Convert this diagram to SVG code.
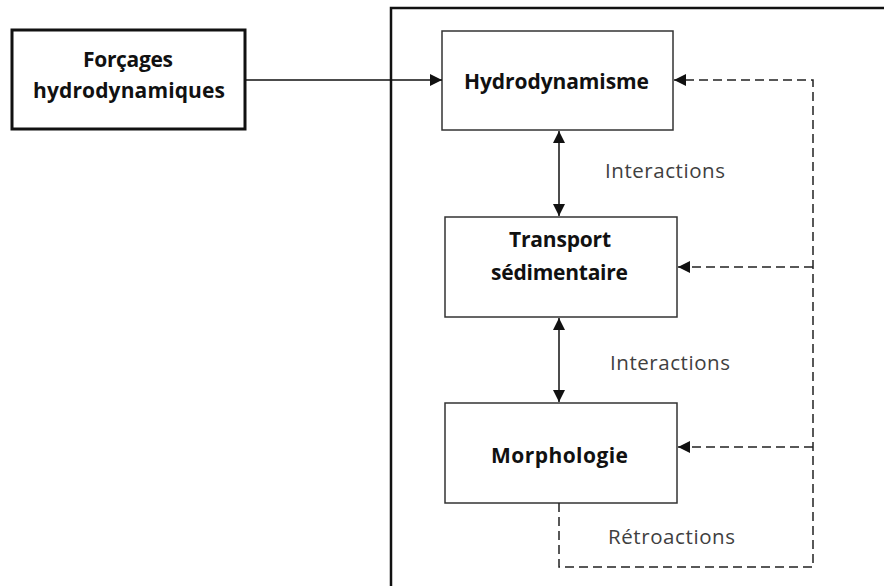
<svg xmlns="http://www.w3.org/2000/svg" width="884" height="586" viewBox="0 0 884 586">
<defs>
<style>
.box{fill:#fff;stroke:#333;stroke-width:1.5}
.bt{font-family:"Open Sans","Liberation Sans",sans-serif;font-weight:bold;font-size:21px;fill:#111;text-anchor:middle}
.lt{font-family:"Open Sans","Liberation Sans",sans-serif;font-size:20.5px;fill:#404040}
.ln{fill:none;stroke:#111;stroke-width:1.5}
.dl{fill:none;stroke:#222;stroke-width:1.5;stroke-dasharray:9,5}
</style>
<marker id="ah" viewBox="0 0 10 10" refX="10" refY="5" markerWidth="12" markerHeight="12" markerUnits="userSpaceOnUse" orient="auto-start-reverse">
<path d="M0,0 L10,5 L0,10 z" fill="#111"/>
</marker>
</defs>
<rect width="884" height="586" fill="#fff"/>
<g id="system">
<path d="M391,586 V8 H886" fill="none" stroke="#111" stroke-width="2.5"/>
</g>
<g id="forcages">
<rect x="12" y="30" width="233" height="99" fill="#fff" stroke="#111" stroke-width="3"/>
<text class="bt" x="128" y="67" textLength="90">Forçages</text>
<text class="bt" x="129" y="98" textLength="192">hydrodynamiques</text>
</g>
<g id="hydro">
<rect class="box" x="442" y="31" width="231" height="99"/>
<text class="bt" x="556.5" y="89" textLength="185">Hydrodynamisme</text>
</g>
<g id="transport">
<rect class="box" x="445" y="217" width="232" height="100"/>
<text class="bt" x="560" y="247" textLength="102">Transport</text>
<text class="bt" x="559.5" y="280" textLength="137">sédimentaire</text>
</g>
<g id="morpho">
<rect class="box" x="445" y="403" width="232" height="100"/>
<text class="bt" x="559.5" y="463" textLength="137">Morphologie</text>
</g>
<g id="connectors">
<line class="ln" x1="245" y1="80" x2="442" y2="80" marker-end="url(#ah)"/>
<line class="ln" x1="559" y1="131" x2="559" y2="216" marker-start="url(#ah)" marker-end="url(#ah)"/>
<line class="ln" x1="559" y1="318" x2="559" y2="402" marker-start="url(#ah)" marker-end="url(#ah)"/>
<path class="dl" d="M559,503 V567 H813 V80 H674" marker-end="url(#ah)"/>
<line class="dl" x1="813" y1="267" x2="678" y2="267" marker-end="url(#ah)"/>
<line class="dl" x1="813" y1="447" x2="678" y2="447" marker-end="url(#ah)"/>
<text class="lt" x="605" y="178" textLength="120">Interactions</text>
<text class="lt" x="610" y="370" textLength="120">Interactions</text>
<text class="lt" x="608" y="544" textLength="127">Rétroactions</text>
</g>
</svg>
